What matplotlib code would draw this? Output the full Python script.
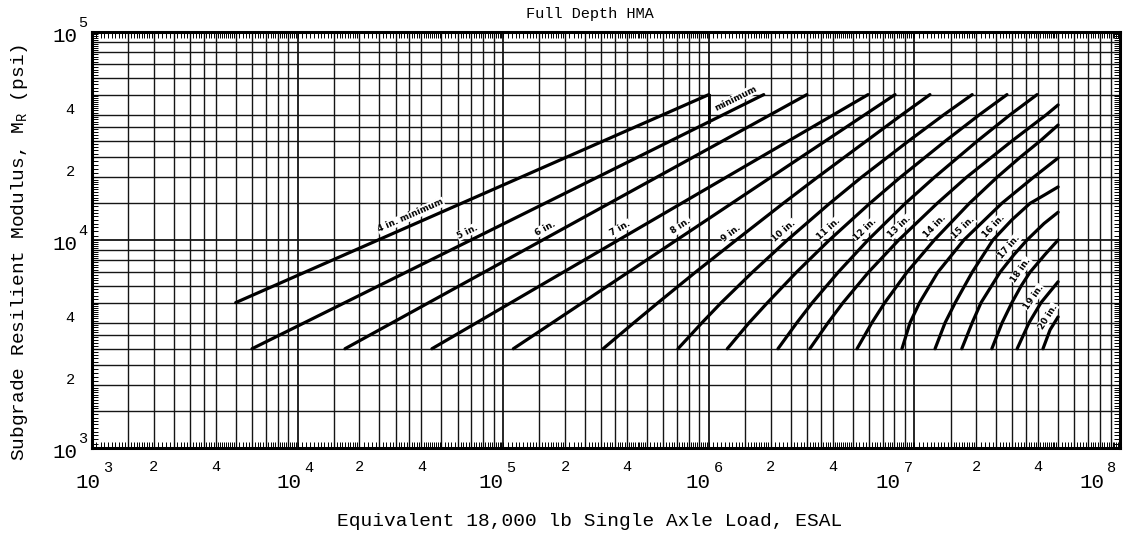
import numpy as np
import matplotlib.pyplot as plt
from matplotlib import transforms
from matplotlib.ticker import NullFormatter

plt.rcParams['font.family'] = ['Liberation Mono', 'DejaVu Sans Mono']
plt.rcParams['mathtext.fontset'] = 'custom'
plt.rcParams['mathtext.rm'] = 'Liberation Mono'
plt.rcParams['mathtext.it'] = 'Liberation Mono'

# design lines: ESAL vs subgrade modulus (psi)
thickness_labels = ['4 in. minimum', '5 in.', '6 in.', '7 in.', '8 in.', '9 in.',
                    '10 in.', '11 in.', '12 in.', '13 in.', '14 in.', '15 in.',
                    '16 in.', '17 in.', '18 in.', '19 in.', '20 in.']

curve_esal = [
    [5.0e3, 1.0e6],
    [6.0e3, 1.85e6],
    [1.7e4, 3.0e6],
    [4.5e4, 5.95e6],
    [1.12e5, 8.05e6],
    [3.06e5, 4.32e5, 5.67e5, 8.61e5, 1.36e6, 2.30e6, 3.37e6, 5.86e6, 8.69e6, 1.19e7],
    [7.08e5, 9.26e5, 1.15e6, 1.63e6, 2.41e6, 3.87e6, 5.52e6, 9.40e6, 1.39e7, 1.91e7],
    [1.23e6, 1.57e6, 1.93e6, 2.67e6, 3.86e6, 6.07e6, 8.53e6, 1.42e7, 2.07e7, 2.82e7],
    [2.17e6, 2.68e6, 3.19e6, 4.26e6, 5.95e6, 9.03e6, 1.25e7, 2.03e7, 2.92e7, 3.95e7],
    [3.10e6, 3.80e6, 4.50e6, 5.98e6, 8.39e6, 1.29e7, 1.79e7, 2.99e7, 4.38e7, 5.0e7],
    [5.26e6, 6.21e6, 7.18e6, 9.20e6, 1.25e7, 1.85e7, 2.52e7, 3.27e7, 4.10e7, 5.0e7],
    [8.70e6, 9.52e6, 1.06e7, 1.30e7, 1.74e7, 2.66e7, 3.79e7, 5.0e7],
    [1.26e7, 1.41e7, 1.58e7, 1.91e7, 2.41e7, 2.98e7, 3.65e7, 4.31e7, 5.0e7],
    [1.70e7, 1.91e7, 2.11e7, 2.61e7, 3.05e7, 3.53e7, 4.27e7, 5.0e7],
    [2.38e7, 2.67e7, 2.98e7, 3.30e7, 3.65e7, 4.31e7, 5.0e7],
    [3.16e7, 3.61e7, 4.13e7, 5.0e7],
    [4.22e7, 4.57e7, 5.0e7],
]
curve_mr = [
    [5000, 50000],
    [3000, 50000],
    [3000, 50000],
    [3000, 50000],
    [3000, 50000],
    [3000, 4000, 5000, 7000, 10000, 15000, 20000, 30000, 40000, 50000],
    [3000, 4000, 5000, 7000, 10000, 15000, 20000, 30000, 40000, 50000],
    [3000, 4000, 5000, 7000, 10000, 15000, 20000, 30000, 40000, 50000],
    [3000, 4000, 5000, 7000, 10000, 15000, 20000, 30000, 40000, 50000],
    [3000, 4000, 5000, 7000, 10000, 15000, 20000, 30000, 40000, 44600],
    [3000, 4000, 5000, 7000, 10000, 15000, 20000, 25000, 30000, 35700],
    [3000, 4000, 5000, 7000, 10000, 15000, 20000, 24800],
    [3000, 4000, 5000, 7000, 10000, 12500, 15000, 16500, 18000],
    [3000, 4000, 5000, 7000, 8500, 10000, 12000, 13600],
    [3000, 4000, 5000, 6000, 7000, 8500, 10000],
    [3000, 4000, 5000, 6300],
    [3000, 3700, 4270],
]

# where each line carries its label (ESAL)
label_esal = [3.7e4, 7.0e4, 1.69e5, 3.91e5, 7.74e5, 1.36e6, 2.48e6, 4.11e6,
              6.22e6, 9.1e6, 1.35e7, 1.86e7, 2.61e7, 3.12e7, 3.57e7, 4.13e7, 4.85e7]

# step joining the 4 in. line down to the 5 in. line at 10^6
min_step_esal = [1.0e6, 1.0e6]
min_step_mr = [50000, 37000]
min_text_esal = 1.42e6

grid_mantissas = [1.5, 2, 2.5, 3, 3.5, 4, 5, 6, 7, 8, 9]

W, H = 1145, 542
fig = plt.figure(figsize=(W / 100, H / 100), dpi=100)
ax = fig.add_axes([92 / W, 94 / H, 1028 / W, 416 / H])
ax.set_xscale('log')
ax.set_yscale('log')
ax.set_xlim(1e3, 1e8)
ax.set_ylim(1e3, 1e5)

# graph-paper grid
for d in range(3, 8):
    for m in grid_mantissas:
        ax.axvline(m * 10 ** d, color='#151515', lw=1.0, zorder=1)
    if d > 3:
        ax.axvline(10 ** d, color='#151515', lw=1.3, zorder=1)
for d in range(3, 5):
    for m in grid_mantissas:
        ax.axhline(m * 10 ** d, color='#151515', lw=1.0, zorder=1)
ax.axhline(1e4, color='#151515', lw=1.3, zorder=1)

# fine ruler ticks round the frame
fine = np.concatenate([np.arange(1.0, 2.0, 0.05), np.arange(2.0, 5.0, 0.1), np.arange(5.0, 10.0, 0.2)])
ax.set_xticks([f * 10 ** d for d in range(3, 8) for f in fine], minor=True)
ax.set_yticks([f * 10 ** d for d in range(3, 5) for f in fine], minor=True)
ax.set_xticks([])
ax.set_yticks([])
ax.xaxis.set_minor_formatter(NullFormatter())
ax.yaxis.set_minor_formatter(NullFormatter())
ax.tick_params(which='minor', direction='in', length=4, width=0.7, color='black',
               top=True, right=True, labelbottom=False, labelleft=False)
for s in ax.spines.values():
    s.set_linewidth(2.2)
    s.set_zorder(5)

# thickness lines
for e, m in zip(curve_esal, curve_mr):
    ax.plot(e, m, color='black', lw=2.3, solid_capstyle='round',
            solid_joinstyle='round', zorder=3)
ax.plot(min_step_esal, min_step_mr, color='black', lw=2.0, zorder=3)


def along(e_vals, m_vals, e0, off=9.0):
    le = np.log10(e_vals)
    lm = np.log10(m_vals)

    def pt(e):
        le_c = np.clip(np.log10(e), le[0], le[-1])
        return ax.transData.transform((10 ** le_c, 10 ** np.interp(le_c, le, lm)))

    p = pt(e0)
    a, b = pt(e0 / 1.05), pt(e0 * 1.05)
    dvec = (b - a) / np.hypot(*(b - a))
    q = p + off * np.array([-dvec[1], dvec[0]])
    xy = ax.transData.inverted().transform(q)
    return xy, np.degrees(np.arctan2(dvec[1], dvec[0]))


lab_style = dict(rotation_mode='anchor', ha='center', va='center', fontsize=6.3,
                 fontweight='bold', family='DejaVu Sans',
                 bbox=dict(fc='white', ec='none', pad=0.4), zorder=4)
for e, m, lab, e0 in zip(curve_esal, curve_mr, thickness_labels, label_esal):
    xy, ang = along(e, m, e0)
    ax.text(xy[0], xy[1], lab, rotation=ang, **lab_style)
xy, ang = along(curve_esal[1], curve_mr[1], min_text_esal)
ax.text(xy[0], xy[1], 'minimum', rotation=ang, **lab_style)

# tick labels in the typewriter style of the original (hand placed, so nudged)
xt = transforms.blended_transform_factory(ax.transData, ax.transAxes)
x_nudge = [8, 4, 0, 2, -14, -16]
for d, nx in zip(range(3, 9), x_nudge):
    ax.text(10 ** d, 0, '10', ha='right', va='center', fontsize=15,
            transform=transforms.offset_copy(xt, fig, x=nx, y=-35, units='dots'))
    ax.text(10 ** d, 0, str(d), ha='left', va='center', fontsize=11,
            transform=transforms.offset_copy(xt, fig, x=nx + 3, y=-20, units='dots'))
    if d < 8:
        for m in (2, 4):
            ax.text(m * 10 ** d, 0, str(m), ha='center', va='center', fontsize=11,
                    transform=transforms.offset_copy(xt, fig, y=-19, units='dots'))

yt = transforms.blended_transform_factory(ax.transAxes, ax.transData)
for d in range(3, 6):
    ax.text(0, 10 ** d, '10', ha='right', va='center', fontsize=15,
            transform=transforms.offset_copy(yt, fig, x=-15, y=-5, units='dots'))
    ax.text(0, 10 ** d, str(d), ha='left', va='center', fontsize=11,
            transform=transforms.offset_copy(yt, fig, x=-14, y=9, units='dots'))
    if d < 5:
        for m in (2, 4):
            ax.text(0, m * 10 ** d, str(m), ha='center', va='center', fontsize=11,
                    transform=transforms.offset_copy(yt, fig, x=-22, y=5, units='dots'))

fig.text(590 / W, 1 - 14 / H, 'Full Depth HMA', ha='center', va='center', fontsize=11)
fig.text(590 / W, 1 - 521 / H, 'Equivalent 18,000 lb Single Axle Load, ESAL',
         ha='center', va='center', fontsize=14)
fig.text(20 / W, 1 - 252 / H, r'Subgrade Resilient Modulus, M$_\mathregular{R}$ (psi)',
         rotation=90, ha='center', va='center', fontsize=14)

fig.savefig('out.png', dpi=100)
